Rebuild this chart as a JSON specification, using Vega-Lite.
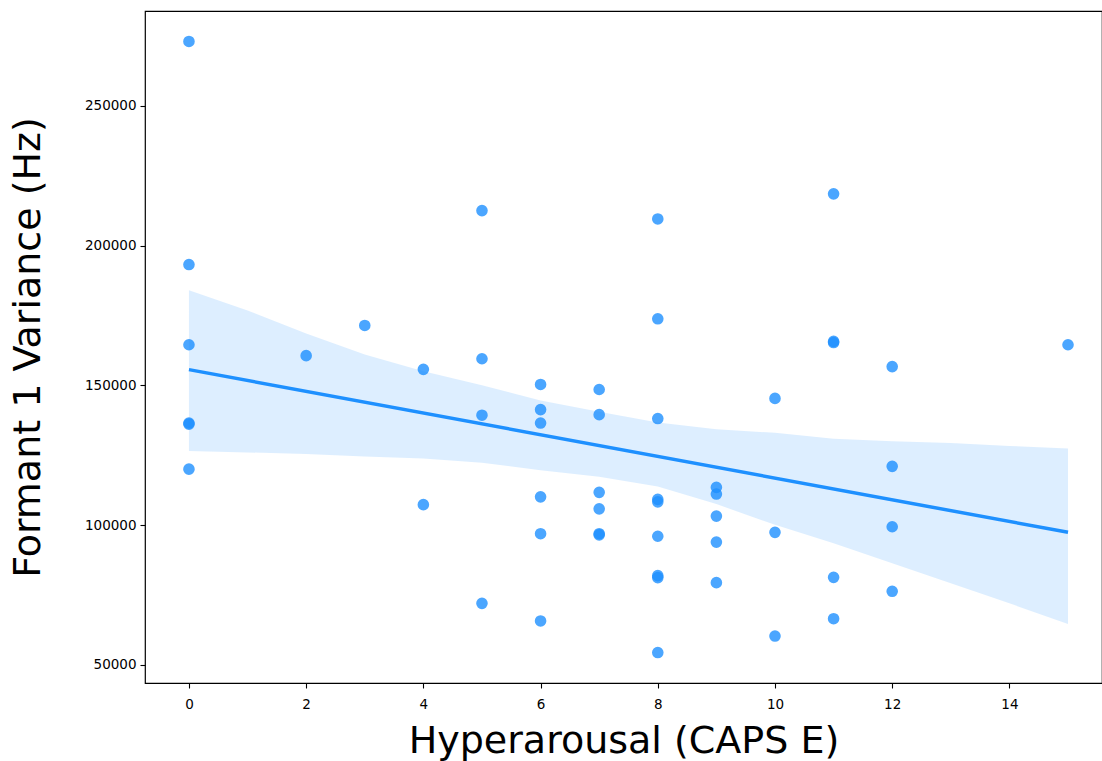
{
  "$schema": "https://vega.github.io/schema/vega-lite/v6.json",
  "width": 957,
  "height": 672,
  "autosize": {"type": "none"},
  "padding": {"left": 145, "top": 11, "right": 0, "bottom": 78},
  "background": "white",
  "config": {
    "view": {"stroke": "black", "strokeWidth": 1.2},
    "axis": {
      "grid": false,
      "domain": false,
      "tickColor": "black",
      "tickSize": 5,
      "tickWidth": 1.1,
      "labelFont": "DejaVu Sans",
      "labelFontSize": 13.5,
      "labelColor": "black",
      "titleFont": "DejaVu Sans",
      "titleColor": "black",
      "titleFontWeight": "normal"
    }
  },
  "datasets": {
    "points": [
      {"caps_e": 0, "f1var": 273000}, {"caps_e": 0, "f1var": 193200}, {"caps_e": 0, "f1var": 164500},
      {"caps_e": 0, "f1var": 136500}, {"caps_e": 0, "f1var": 136100}, {"caps_e": 0, "f1var": 120000},
      {"caps_e": 2, "f1var": 160600},
      {"caps_e": 3, "f1var": 171400},
      {"caps_e": 4, "f1var": 155700}, {"caps_e": 4, "f1var": 107300},
      {"caps_e": 5, "f1var": 212500}, {"caps_e": 5, "f1var": 159500}, {"caps_e": 5, "f1var": 139300}, {"caps_e": 5, "f1var": 72000},
      {"caps_e": 6, "f1var": 150300}, {"caps_e": 6, "f1var": 141300}, {"caps_e": 6, "f1var": 136500},
      {"caps_e": 6, "f1var": 110100}, {"caps_e": 6, "f1var": 96900}, {"caps_e": 6, "f1var": 65700},
      {"caps_e": 7, "f1var": 148500}, {"caps_e": 7, "f1var": 139500}, {"caps_e": 7, "f1var": 111700},
      {"caps_e": 7, "f1var": 105800}, {"caps_e": 7, "f1var": 96900}, {"caps_e": 7, "f1var": 96500},
      {"caps_e": 8, "f1var": 209500}, {"caps_e": 8, "f1var": 173800}, {"caps_e": 8, "f1var": 138100},
      {"caps_e": 8, "f1var": 109200}, {"caps_e": 8, "f1var": 108300}, {"caps_e": 8, "f1var": 96000},
      {"caps_e": 8, "f1var": 81900}, {"caps_e": 8, "f1var": 81200}, {"caps_e": 8, "f1var": 54400},
      {"caps_e": 9, "f1var": 113500}, {"caps_e": 9, "f1var": 111100}, {"caps_e": 9, "f1var": 103200},
      {"caps_e": 9, "f1var": 93900}, {"caps_e": 9, "f1var": 79400},
      {"caps_e": 10, "f1var": 145300}, {"caps_e": 10, "f1var": 97400}, {"caps_e": 10, "f1var": 60300},
      {"caps_e": 11, "f1var": 218500}, {"caps_e": 11, "f1var": 165700}, {"caps_e": 11, "f1var": 165300},
      {"caps_e": 11, "f1var": 81300}, {"caps_e": 11, "f1var": 66500},
      {"caps_e": 12, "f1var": 156700}, {"caps_e": 12, "f1var": 121000}, {"caps_e": 12, "f1var": 99400}, {"caps_e": 12, "f1var": 76300},
      {"caps_e": 15, "f1var": 164500}
    ],
    "band": [
      {"caps_e": 0, "lo": 126500, "hi": 184000},
      {"caps_e": 1, "lo": 126000, "hi": 176800},
      {"caps_e": 2, "lo": 125400, "hi": 168500},
      {"caps_e": 3, "lo": 124500, "hi": 161000},
      {"caps_e": 4, "lo": 123800, "hi": 155000},
      {"caps_e": 5, "lo": 122300, "hi": 150000},
      {"caps_e": 6, "lo": 119600, "hi": 144600},
      {"caps_e": 7, "lo": 117300, "hi": 140500},
      {"caps_e": 8, "lo": 113800, "hi": 136700},
      {"caps_e": 9, "lo": 107500, "hi": 134300},
      {"caps_e": 10, "lo": 100100, "hi": 133000},
      {"caps_e": 11, "lo": 93500, "hi": 130900},
      {"caps_e": 12, "lo": 86300, "hi": 130000},
      {"caps_e": 13, "lo": 79200, "hi": 129400},
      {"caps_e": 14, "lo": 72000, "hi": 128300},
      {"caps_e": 15, "lo": 64600, "hi": 127400}
    ],
    "fit": [
      {"caps_e": 0, "f1var": 155600},
      {"caps_e": 15, "f1var": 97400}
    ]
  },
  "layer": [
    {
      "data": {"name": "points"},
      "mark": {"type": "circle", "size": 135, "color": "#1E90FF", "opacity": 0.8},
      "encoding": {
        "x": {
          "field": "caps_e", "type": "quantitative",
          "scale": {"domain": [-0.75, 15.58], "nice": false, "zero": false},
          "axis": {"values": [0, 2, 4, 6, 8, 10, 12, 14], "format": "d", "title": "Hyperarousal (CAPS E)", "titleFontSize": 38, "titlePadding": 12, "labelPadding": 9}
        },
        "y": {
          "field": "f1var", "type": "quantitative",
          "scale": {"domain": [43500, 283900], "nice": false, "zero": false},
          "axis": {"values": [50000, 100000, 150000, 200000, 250000], "format": "d", "title": "Formant 1 Variance (Hz)", "titleFontSize": 38, "titlePadding": 37, "labelPadding": 4}
        }
      }
    },
    {
      "data": {"name": "band"},
      "mark": {"type": "area", "color": "#1E90FF", "opacity": 0.15},
      "encoding": {
        "x": {"field": "caps_e", "type": "quantitative"},
        "y": {"field": "lo", "type": "quantitative"},
        "y2": {"field": "hi"}
      }
    },
    {
      "data": {"name": "fit"},
      "mark": {"type": "line", "color": "#1E90FF", "strokeWidth": 3.5},
      "encoding": {
        "x": {"field": "caps_e", "type": "quantitative"},
        "y": {"field": "f1var", "type": "quantitative"}
      }
    }
  ]
}
